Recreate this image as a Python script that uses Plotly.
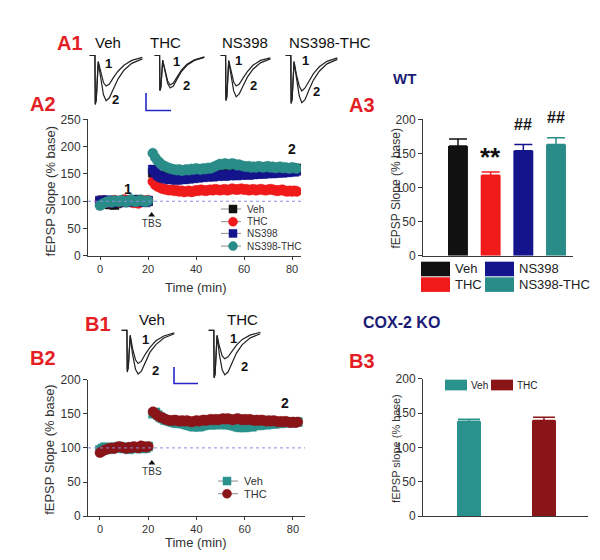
import plotly.graph_objects as go

# ---------------- data ----------------
T_BASE = [0, 1, 2, 3, 4, 5, 6, 7, 8, 9, 10, 11, 12, 13, 14, 15, 16, 17, 18, 19, 20]
T_POST = [22, 23, 24, 25, 26, 27, 28, 29, 30, 31, 32, 33, 34, 35, 36, 37, 38, 39, 40, 41,
          42, 43, 44, 45, 46, 47, 48, 49, 50, 51, 52, 53, 54, 55, 56, 57, 58, 59, 60, 61,
          62, 63, 64, 65, 66, 67, 68, 69, 70, 71, 72, 73, 74, 75, 76, 77, 78, 79, 80, 81, 82]

A2_NAMES = ["Veh", "THC", "NS398", "NS398-THC"]
A2_BASE = {
    "Veh": [99, 102, 98, 96, 94, 95, 93, 96, 98, 100, 101, 99, 102, 100, 98, 101, 103, 100, 99, 101, 100],
    "THC": [100, 98, 101, 99, 97, 100, 102, 99, 98, 101, 103, 100, 102, 99, 97, 98, 96, 99, 101, 100, 102],
    "NS398": [101, 99, 100, 102, 98, 97, 99, 101, 100, 99, 98, 100, 101, 99, 100, 102, 101, 99, 100, 98, 101],
    "NS398-THC": [92, 95, 97, 99, 100, 98, 101, 100, 99, 102, 100, 98, 101, 103, 100, 99, 101, 102, 100, 99, 101],
}
A2_POST = {
    "Veh": [152, 148, 146, 144, 145, 146, 147, 145, 146, 144, 145, 146, 144, 145, 147, 146, 148, 147, 148, 149,
            150, 149, 151, 150, 152, 153, 154, 156, 158, 157, 159, 158, 160, 159, 161, 160, 159, 161, 158, 157,
            156, 157, 155, 156, 157, 156, 155, 157, 158, 156, 157, 158, 157, 156, 158, 157, 159, 158, 160, 159, 160],
    "THC": [136, 130, 127, 125, 123, 122, 121, 120, 121, 119, 120, 118, 119, 117, 118, 119, 117, 118, 120, 119,
            121, 120, 119, 120, 121, 120, 122, 121, 120, 121, 122, 120, 121, 123, 122, 121, 122, 123, 121, 122,
            120, 121, 122, 120, 121, 122, 121, 120, 121, 122, 121, 120, 119, 120, 121, 119, 118, 119, 118, 119, 118],
    "NS398": [158, 152, 148, 145, 143, 142, 141, 140, 141, 140, 139, 140, 141, 140, 142, 141, 143, 142, 144, 143,
              145, 144, 146, 145, 146, 145, 147, 146, 148, 147, 146, 148, 147, 149, 148, 147, 149, 148, 150, 149,
              148, 150, 149, 151, 150, 151, 150, 152, 151, 152, 151, 153, 152, 153, 152, 154, 153, 154, 155, 154, 156],
    "NS398-THC": [188, 180, 174, 170, 166, 164, 162, 160, 159, 158, 157, 158, 156, 157, 158, 157, 159, 158, 160, 159,
                  158, 160, 159, 161, 160, 162, 164, 166, 168, 167, 169, 168, 167, 169, 168, 166, 167, 165, 164, 163,
                  164, 162, 163, 162, 164, 163, 162, 163, 164, 162, 163, 161, 162, 163, 161, 162, 161, 160, 162, 161, 160],
}
A2_SEM = {"Veh": 7, "THC": 6, "NS398": 7, "NS398-THC": 10}

A3_MEAN = [161, 118, 154, 163]
A3_SEM = [10, 5, 9, 10]
A3_SIG = ["", "**", "##", "##"]

B_NAMES = ["Veh", "THC"]
B2_BASE = {
    "Veh": [97, 99, 101, 100, 98, 99, 101, 100, 102, 101, 99, 100, 98, 101, 100, 99, 100, 101, 99, 100, 102],
    "THC": [93, 95, 97, 98, 99, 100, 99, 101, 102, 101, 100, 99, 101, 100, 102, 101, 100, 103, 102, 101, 102],
}
B2_POST = {
    "Veh": [150, 152, 148, 145, 143, 141, 140, 139, 138, 137, 136, 137, 136, 135, 134, 133, 132, 131, 132, 131,
            132, 133, 134, 135, 134, 135, 134, 135, 136, 135, 134, 135, 134, 133, 132, 131, 130, 131, 130, 131,
            132, 131, 133, 134, 133, 134, 135, 134, 135, 136, 135, 136, 137, 136, 137, 138, 137, 138, 137, 138, 138],
    "THC": [153, 150, 147, 145, 144, 142, 141, 140, 140, 141, 140, 139, 140, 139, 140, 139, 138, 139, 140, 139,
            140, 141, 140, 141, 142, 141, 142, 141, 142, 143, 142, 143, 142, 141, 142, 143, 142, 141, 142, 141,
            142, 141, 140, 141, 140, 141, 140, 139, 140, 139, 140, 139, 138, 139, 138, 139, 138, 137, 138, 137, 138],
}
B2_SEM = {"Veh": 4, "THC": 4}

B3_MEAN = [138, 139]
B3_SEM = [3, 5]

TBS_TIME = 21.5
BASELINE = 100

# example fEPSP traces (ms, normalised amplitude)
WAVE_T = [0.0, 1.6, 1.7, 2.0, 2.6, 3.3, 4.2, 5.0, 6.0, 7.2, 8.6, 10.4, 12.8, 16.0]
WAVES_A1 = {
    "Veh": ([0, 0, -0.98, -0.9, -0.12, -0.32, -0.55, -0.62, -0.58, -0.45, -0.32, -0.2, -0.1, -0.04],
            [0, 0, -1.0, -0.92, -0.14, -0.45, -0.8, -0.92, -0.86, -0.68, -0.48, -0.3, -0.16, -0.07]),
    "THC": ([0, 0, -0.7, -0.64, -0.1, -0.3, -0.52, -0.6, -0.56, -0.44, -0.3, -0.18, -0.09, -0.03],
            [0, 0, -0.72, -0.66, -0.1, -0.33, -0.57, -0.66, -0.62, -0.48, -0.33, -0.2, -0.1, -0.04]),
    "NS398": ([0, 0, -0.9, -0.82, -0.1, -0.32, -0.54, -0.62, -0.58, -0.46, -0.33, -0.2, -0.1, -0.05],
              [0, 0, -0.92, -0.85, -0.12, -0.42, -0.72, -0.84, -0.78, -0.62, -0.44, -0.28, -0.15, -0.07]),
    "NS398-THC": ([0, 0, -0.96, -0.88, -0.12, -0.38, -0.62, -0.72, -0.66, -0.52, -0.37, -0.23, -0.12, -0.05],
                  [0, 0, -0.98, -0.9, -0.14, -0.48, -0.82, -0.96, -0.9, -0.7, -0.5, -0.32, -0.17, -0.08]),
}
WAVES_B1 = {
    "Veh": ([0, 0, -0.85, -0.78, -0.1, -0.38, -0.62, -0.7, -0.65, -0.5, -0.36, -0.22, -0.12, -0.05],
            [0, 0, -0.88, -0.8, -0.12, -0.5, -0.82, -0.92, -0.86, -0.66, -0.46, -0.3, -0.16, -0.07]),
    "THC": ([0, 0, -1.0, -0.92, -0.1, -0.33, -0.54, -0.6, -0.56, -0.44, -0.31, -0.19, -0.1, -0.04],
            [0, 0, -1.0, -0.92, -0.12, -0.5, -0.84, -0.94, -0.88, -0.68, -0.48, -0.3, -0.16, -0.07]),
}

# ---------------- style ----------------
W, H = 600, 560
FONT = "Arial, Liberation Sans, sans-serif"
COL = {"Veh": "#111111", "THC": "#f01a1a", "NS398": "#14148c", "NS398-THC": "#2a8c88"}
COLB = {"Veh": "#2a928c", "THC": "#8a1519"}
SYM = {"Veh": "square", "THC": "circle", "NS398": "square", "NS398-THC": "circle"}
SYMB = {"Veh": "square", "THC": "circle"}
MSIZE = {"square": 9, "circle": 10}
LABEL_RED = "#e31e24"
NAVY_TXT = "#1c1c78"
AX = "#3a3a3a"


def px(x):
    return x / W


def py(y):
    return 1 - y / H


def rgba(hexc, a):
    h = hexc.lstrip("#")
    return "rgba(%d,%d,%d,%.2f)" % (int(h[0:2], 16), int(h[2:4], 16), int(h[4:6], 16), a)


fig = go.Figure()

# ---- A2 time course ----
for n in A2_NAMES:
    fig.add_trace(go.Scatter(
        x=T_BASE + T_POST, y=A2_BASE[n] + A2_POST[n], name=n, mode="markers",
        xaxis="x", yaxis="y", showlegend=False,
        marker=dict(symbol=SYM[n], size=MSIZE[SYM[n]], color=COL[n],
                    line=dict(width=0.5, color=COL[n])),
        error_y=dict(type="constant", value=A2_SEM[n], color=rgba(COL[n], 0.35), thickness=1, width=0),
    ))

fig.add_trace(go.Scatter(x=[TBS_TIME], y=[75], mode="markers+text", text=["TBS"],
                         textposition="bottom center", textfont=dict(size=10, color="#333", family=FONT),
                         marker=dict(symbol="triangle-up", size=6, color="#111"),
                         xaxis="x", yaxis="y", showlegend=False, hoverinfo="skip"))

# ---- A3 bars ----
for i, n in enumerate(A2_NAMES):
    fig.add_trace(go.Bar(
        x=[n], y=[A3_MEAN[i]], xaxis="x2", yaxis="y2", showlegend=False, width=0.61,
        marker=dict(color=COL[n], line=dict(width=0)),
        error_y=dict(type="data", array=[A3_SEM[i]], arrayminus=[0], symmetric=False,
                     color=COL[n], thickness=1.5, width=9),
    ))

# ---- B2 time course ----
for n in B_NAMES:
    fig.add_trace(go.Scatter(
        x=T_BASE + T_POST, y=B2_BASE[n] + B2_POST[n], name=n, mode="markers",
        xaxis="x3", yaxis="y3", showlegend=False,
        marker=dict(symbol=SYMB[n], size=MSIZE[SYMB[n]], color=COLB[n],
                    line=dict(width=0.5, color=COLB[n])),
        error_y=dict(type="constant", value=B2_SEM[n], color=rgba(COLB[n], 0.35), thickness=1, width=0),
    ))

fig.add_trace(go.Scatter(x=[TBS_TIME], y=[78], mode="markers+text", text=["TBS"],
                         textposition="bottom center", textfont=dict(size=10, color="#333", family=FONT),
                         marker=dict(symbol="triangle-up", size=6, color="#111"),
                         xaxis="x3", yaxis="y3", showlegend=False, hoverinfo="skip"))

# ---- B3 bars ----
for i, n in enumerate(B_NAMES):
    fig.add_trace(go.Bar(
        x=[n], y=[B3_MEAN[i]], xaxis="x4", yaxis="y4", showlegend=False, width=0.32,
        marker=dict(color=COLB[n], line=dict(width=0)),
        error_y=dict(type="data", array=[B3_SEM[i]], arrayminus=[0], symmetric=False,
                     color=COLB[n], thickness=1.5, width=11),
    ))

# ---- waveform insets ----
INSETS = [
    ("A1", "Veh", (81, 135, 40, 93)),
    ("A1", "THC", (146, 197, 40, 93)),
    ("A1", "NS398", (212, 263, 40, 93)),
    ("A1", "NS398-THC", (277, 330, 40, 93)),
    ("B1", "Veh", (113, 167, 322, 373)),
    ("B1", "THC", (200, 253, 322, 373)),
]
layout_axes = {}
for k, (grp, n, (x0, x1, y0, y1)) in enumerate(INSETS):
    idx = 5 + k
    waves = WAVES_A1[n] if grp == "A1" else WAVES_B1[n]
    for tr in waves:
        fig.add_trace(go.Scatter(x=WAVE_T, y=tr, mode="lines", xaxis="x%d" % idx, yaxis="y%d" % idx,
                                 line=dict(color="#222", width=1.2), showlegend=False, hoverinfo="skip"))
    layout_axes["xaxis%d" % idx] = dict(domain=[px(x0), px(x1)], range=[-0.2, 16.2], visible=False,
                                        anchor="y%d" % idx, fixedrange=True)
    layout_axes["yaxis%d" % idx] = dict(domain=[py(y1), py(y0)], range=[-1.02, 0.03], visible=False,
                                        anchor="x%d" % idx, fixedrange=True)

# ---- compact legends for the time courses (drawn on a page-sized hidden axis, in pixels) ----
LEG_IDX = 5 + len(INSETS)
LEGENDS = [
    (A2_NAMES, COL, SYM, 213, 233, 225, [199, 212, 224, 237], 10),
    (B_NAMES, COLB, SYMB, 210, 230, 219, [478, 491], 11),
]
leg_annotations = []
for names, cols, syms, lx0, lx1, mx, ys, fs in LEGENDS:
    for n, yy in zip(names, ys):
        fig.add_trace(go.Scatter(x=[lx0, lx1], y=[yy, yy], mode="lines", line=dict(color="#8a8a8a", width=1),
                                 xaxis="x%d" % LEG_IDX, yaxis="y%d" % LEG_IDX, showlegend=False,
                                 hoverinfo="skip", cliponaxis=False))
        fig.add_trace(go.Scatter(x=[mx], y=[yy], mode="markers",
                                 marker=dict(symbol=syms[n], size=MSIZE[syms[n]] - 1,
                                             color=cols[n], line=dict(width=0.5, color=cols[n])),
                                 xaxis="x%d" % LEG_IDX, yaxis="y%d" % LEG_IDX, showlegend=False,
                                 hoverinfo="skip", cliponaxis=False))
        leg_annotations.append(dict(x=px(lx1 + 4), y=py(yy), xref="paper", yref="paper", text=n,
                                    showarrow=False, xanchor="left", yanchor="middle",
                                    font=dict(size=fs, color="#333", family=FONT)))
layout_axes["xaxis%d" % LEG_IDX] = dict(domain=[0, 1], range=[0, W], visible=False,
                                        anchor="y%d" % LEG_IDX, fixedrange=True)
layout_axes["yaxis%d" % LEG_IDX] = dict(domain=[0, 1], range=[H, 0], visible=False,
                                        anchor="x%d" % LEG_IDX, fixedrange=True)


def axstyle(**kw):
    d = dict(showline=True, linecolor=AX, linewidth=1, ticks="outside", ticklen=4, tickwidth=1,
             tickcolor=AX, showgrid=False, zeroline=False,
             tickfont=dict(size=12, color="#333", family=FONT))
    d.update(kw)
    return d


XTICKFONT = dict(size=11, color="#333", family=FONT)

fig.update_layout(
    width=W, height=H, margin=dict(l=0, r=0, t=0, b=0),
    paper_bgcolor="white", plot_bgcolor="rgba(0,0,0,0)",
    font=dict(family=FONT, color="#222"),
    barmode="overlay", showlegend=False,
    xaxis=axstyle(domain=[px(80), px(293)], range=[-5, 83.75], tickvals=[0, 20, 40, 60, 80], anchor="y",
                  ticklen=3, tickfont=XTICKFONT),
    yaxis=axstyle(domain=[py(247), py(107)], range=[0, 250], dtick=50, anchor="x"),
    xaxis2=axstyle(domain=[px(415), px(565)], range=[-1.07, 3.52], ticks="", showticklabels=False, anchor="y2"),
    yaxis2=axstyle(domain=[py(247), py(107)], range=[0, 200], dtick=50, anchor="x2"),
    xaxis3=axstyle(domain=[px(80), px(297)], range=[-4.97, 85], tickvals=[0, 20, 40, 60, 80], anchor="y3",
                   ticklen=3, tickfont=XTICKFONT),
    yaxis3=axstyle(domain=[py(514), py(374)], range=[0, 200], dtick=50, anchor="x3"),
    xaxis4=axstyle(domain=[px(415), px(580)], range=[-0.613, 1.587], ticks="", showticklabels=False, anchor="y4"),
    yaxis4=axstyle(domain=[py(514), py(373)], range=[0, 200], dtick=50, anchor="x4"),
    **layout_axes,
)

shapes = []
annotations = list(leg_annotations)

# baseline dashed lines
for xr, yr in (("x domain", "y"), ("x3 domain", "y3")):
    shapes.append(dict(type="line", xref=xr, yref=yr, x0=0, x1=1, y0=BASELINE, y1=BASELINE,
                       line=dict(color="#8c8ce0", width=1, dash="dot")))

# scale bars (blue L)
for (xv, yt, yb, xr) in ((138, 80, 98, 163), (166, 361, 378, 190)):
    shapes.append(dict(type="path", xref="paper", yref="paper",
                       path="M %f %f L %f %f L %f %f" % (px(xv), py(yt), px(xv), py(yb), px(xr), py(yb)),
                       line=dict(color="#2626c8", width=1.6)))

# A3 legend (2x2 swatches)
A3_LEG = [("Veh", 413, 253), ("THC", 413, 269), ("NS398", 477, 253), ("NS398-THC", 477, 269)]
for n, x0, y0 in A3_LEG:
    shapes.append(dict(type="rect", xref="paper", yref="paper", x0=px(x0), x1=px(x0 + 29),
                       y0=py(y0 + 15), y1=py(y0), fillcolor=COL[n], line=dict(width=0)))
    annotations.append(dict(x=px(x0 + 32), y=py(y0 + 7.5), xref="paper", yref="paper", text=n,
                            showarrow=False, xanchor="left", yanchor="middle",
                            font=dict(size=13, color="#222", family=FONT)))

# B3 legend
B3_LEG = [("Veh", 437), ("THC", 483)]
for n, x0 in B3_LEG:
    shapes.append(dict(type="rect", xref="paper", yref="paper", x0=px(x0), x1=px(x0 + 22),
                       y0=py(385), y1=py(374), fillcolor=COLB[n], line=dict(width=0)))
    annotations.append(dict(x=px(x0 + 24), y=py(379.5), xref="paper", yref="paper", text=n,
                            showarrow=False, xanchor="left", yanchor="middle",
                            font=dict(size=10, color="#222", family=FONT)))


def ptext(x, y, text, size, color="#111", bold=False, angle=0):
    annotations.append(dict(x=px(x), y=py(y), xref="paper", yref="paper",
                            text="<b>%s</b>" % text if bold else text, showarrow=False,
                            xanchor="center", yanchor="middle", textangle=angle,
                            font=dict(size=size, color=color, family=FONT)))


# panel labels
for t, x, y in (("A1", 62, 29), ("A2", 35, 91), ("A3", 354, 92),
                ("B1", 90, 317), ("B2", 35, 352), ("B3", 354, 355)):
    ptext(x, y, t, 20, LABEL_RED, bold=True)
ptext(396, 65, "WT", 15, NAVY_TXT, bold=True)
ptext(393, 315, "COX-2 KO", 16, NAVY_TXT, bold=True)

# condition titles over traces
for t, x, y in (("Veh", 100, 28), ("THC", 157, 28), ("NS398", 237, 28), ("NS398-THC", 322, 28),
                ("Veh", 144, 312), ("THC", 234, 312)):
    ptext(x, y, t, 15, "#111")

# trace numbers
for t, x, y in (("1", 100, 50), ("2", 107, 87), ("1", 168, 48), ("2", 178, 72),
                ("1", 230, 47), ("2", 245, 72), ("1", 297, 47), ("2", 308, 78),
                ("1", 137, 333), ("2", 147, 365), ("1", 225, 332), ("2", 236, 361)):
    ptext(x, y, t, 13, "#111", bold=True)

# axis titles
ptext(42, 181, "fEPSP Slope (% base)", 13, "#333", angle=-90)
ptext(188, 279, "Time (min)", 13, "#333")
ptext(388, 177, "fEPSP Slope (% base)", 12, "#333", angle=-90)
ptext(42, 446, "fEPSP Slope (% base)", 13, "#333", angle=-90)
ptext(188, 541, "Time (min)", 13, "#333")
ptext(388, 444, "fEPSP slope (% base)", 11, "#333", angle=-90)

# LTP sample-point labels
annotations.append(dict(x=11.7, y=123, xref="x", yref="y", text="<b>1</b>", showarrow=False,
                        font=dict(size=14, color="#111", family=FONT)))
annotations.append(dict(x=80, y=196, xref="x", yref="y", text="<b>2</b>", showarrow=False,
                        font=dict(size=14, color="#111", family=FONT)))
annotations.append(dict(x=76.8, y=166, xref="x3", yref="y3", text="<b>2</b>", showarrow=False,
                        font=dict(size=14, color="#111", family=FONT)))

# significance marks
for i, n in enumerate(A2_NAMES):
    s = A3_SIG[i]
    if not s:
        continue
    if s == "**":
        annotations.append(dict(x=n, y=A3_MEAN[i] + A3_SEM[i], xref="x2", yref="y2", text="<b>**</b>",
                                showarrow=False, yanchor="middle", yshift=15,
                                font=dict(size=26, color="#111", family=FONT)))
    else:
        annotations.append(dict(x=n, y=A3_MEAN[i] + A3_SEM[i], xref="x2", yref="y2", text="<b>##</b>",
                                showarrow=False, yanchor="bottom", yshift=10,
                                font=dict(size=16, color="#111", family=FONT)))

fig.update_layout(shapes=shapes, annotations=annotations)
fig.write_html("out.html")
